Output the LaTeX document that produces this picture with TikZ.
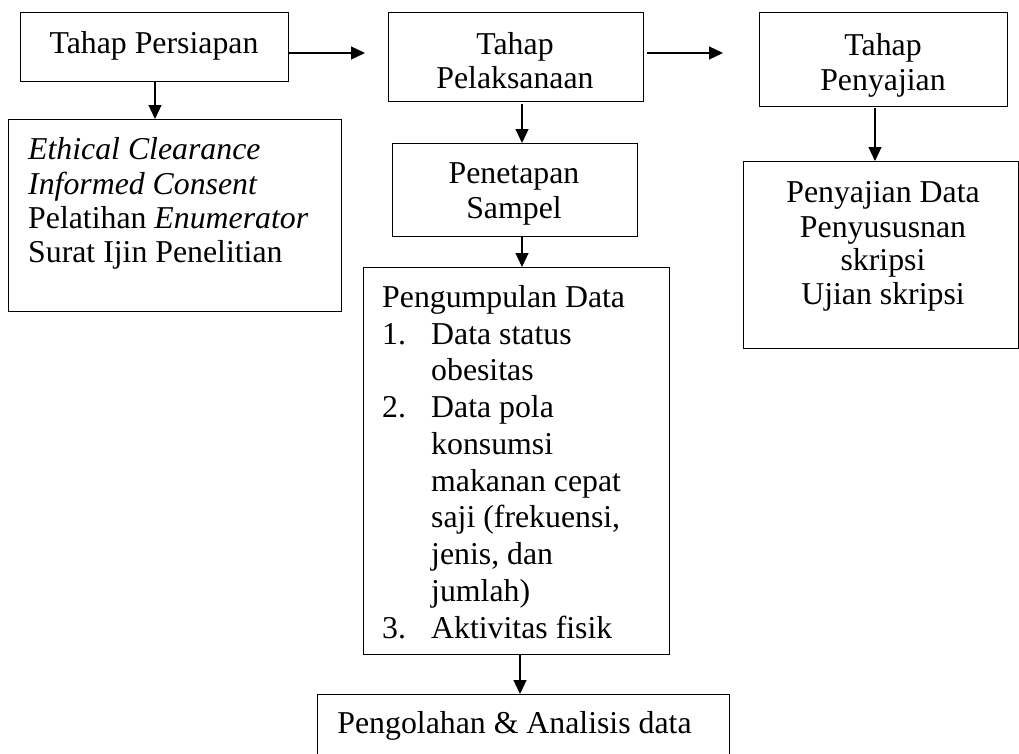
\documentclass[tikz,border=0pt]{standalone}
\usepackage{fontspec}
\setmainfont{Liberation Serif}
\usetikzlibrary{arrows.meta}
\begin{document}
\begin{tikzpicture}[x=1pt,y=-1pt,
  box/.style={draw=black,line width=1.2pt,inner sep=0pt,anchor=north west},
  txt/.style={inner sep=0pt,anchor=base,font=\fontsize{31.8}{34}\selectfont},
  ltxt/.style={txt,anchor=base west},
  arr/.style={line width=1.2pt,-{Triangle[length=14pt,width=13pt]}}]
\useasboundingbox (0,0) rectangle (1019,753);
\clip (0,0) rectangle (1019,753);
% boxes
\node[box,minimum width=268pt,minimum height=69pt] (persiapan) at (20,12) {};
\node[box,minimum width=333pt,minimum height=192pt] (ethical) at (8,119) {};
\node[box,minimum width=255pt,minimum height=89pt] (pelaksanaan) at (388,12) {};
\node[box,minimum width=245pt,minimum height=93pt] (penetapan) at (392,143) {};
\node[box,minimum width=306pt,minimum height=387pt] (pengumpulan) at (363,267) {};
\node[box,minimum width=412pt,minimum height=90pt] (pengolahan) at (317,694) {};
\node[box,minimum width=248pt,minimum height=94pt] (penyajian) at (759,12) {};
\node[box,minimum width=275pt,minimum height=187pt] (penyajiandata) at (743,161) {};
% texts
\node[txt] (t1) at (154,53) {Tahap Persiapan};
\node[ltxt] (e1) at (28,159) {\itshape Ethical Clearance};
\node[ltxt] (e2) at (28,194) {\itshape Informed Consent};
\node[ltxt] (e3) at (28,228) {Pelatihan \itshape Enumerator};
\node[ltxt] (e4) at (28,262) {Surat Ijin Penelitian};
\node[txt] (p1) at (515,54) {Tahap};
\node[txt] (p2) at (515,88) {Pelaksanaan};
\node[txt] (s1) at (514,183) {Penetapan};
\node[txt] (s2) at (514,218) {Sampel};
\node[ltxt] (g0) at (382,307) {Pengumpulan Data};
\node[ltxt] (n1) at (382,344) {1.};
\node[ltxt] (g1) at (431,344) {Data status};
\node[ltxt] (g2) at (431,380) {obesitas};
\node[ltxt] (n2) at (382,417) {2.};
\node[ltxt] (g3) at (431,417) {Data pola};
\node[ltxt] (g4) at (431,454) {konsumsi};
\node[ltxt] (g5) at (431,491) {makanan cepat};
\node[ltxt] (g6) at (431,527) {saji (frekuensi,};
\node[ltxt] (g7) at (431,564) {jenis, dan};
\node[ltxt] (g8) at (431,601) {jumlah)};
\node[ltxt] (n3) at (382,638) {3.};
\node[ltxt] (g9) at (431,638) {Aktivitas fisik};
\node[txt] (o1) at (514.5,733) {Pengolahan \& Analisis data};
\node[txt] (y1) at (883,55) {Tahap};
\node[txt] (y2) at (883,90) {Penyajian};
\node[txt] (d1) at (883,202) {Penyajian Data};
\node[txt] (d2) at (883,237) {Penyususnan};
\node[txt] (d3) at (883,270) {skripsi};
\node[txt] (d4) at (883,304) {Ujian skripsi};
% connector ends
\coordinate (a1s) at (288,53);
\coordinate (a1e) at (365,53);
\coordinate (a2s) at (647,53);
\coordinate (a2e) at (723,53);
\coordinate (b1s) at (155,81);
\coordinate (b2s) at (522,104);
\coordinate (b3s) at (522,236);
\coordinate (b4s) at (520,654);
\coordinate (b5s) at (875,108);
% connectors
\draw[arr] (a1s) -- (a1e);
\draw[arr] (a2s) -- (a2e);
\draw[arr] (b1s) -- (b1s |- ethical.north);
\draw[arr] (b2s) -- (b2s |- penetapan.north);
\draw[arr] (b3s) -- (b3s |- pengumpulan.north);
\draw[arr] (b4s) -- (b4s |- pengolahan.north);
\draw[arr] (b5s) -- (b5s |- penyajiandata.north);
\end{tikzpicture}
\end{document}
